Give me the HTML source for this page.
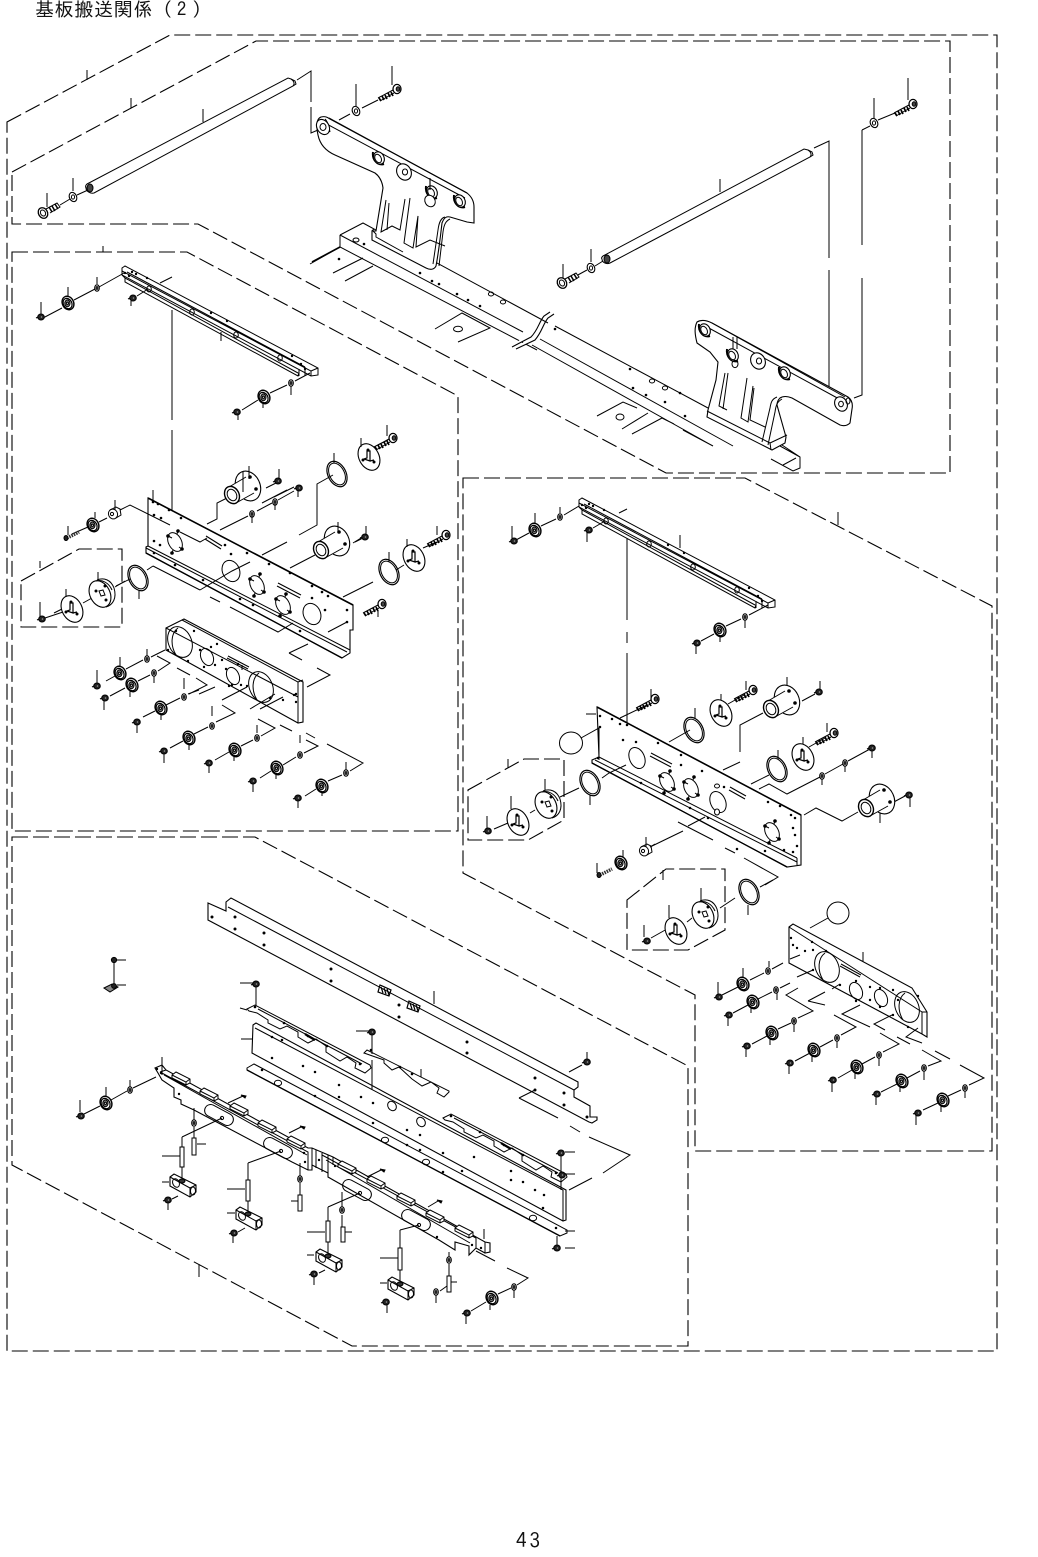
<!DOCTYPE html>
<html><head><meta charset="utf-8"><style>
html,body{margin:0;padding:0;background:#fff}
svg{display:block}
text{fill:#111}
</style></head><body>
<svg xmlns="http://www.w3.org/2000/svg" width="1038" height="1557" viewBox="0 0 1038 1557" fill="none" stroke="#000" stroke-width="1">
<defs>
<g id="n"><ellipse rx="5.6" ry="7" transform="rotate(-28)" fill="#fff" stroke-width="1.4"/><ellipse cx="-.6" cy=".3" rx="4.2" ry="5.4" transform="rotate(-28)" stroke-width="1.2"/><ellipse cx="-.6" cy=".3" rx="2.6" ry="3.4" fill="#777" stroke-width="1"/><circle cx="-.6" cy=".3" r="1.1" fill="#fff"/></g>
<g id="s"><ellipse rx="3.3" ry="3" fill="#222"/><path d="M-3 0L-5 1" /><circle cx=".5" r=".8" fill="#999" stroke="none"/></g>
<g id="w"><ellipse rx="2.3" ry="3.2" fill="#fff" stroke-width="1.1"/><ellipse rx="1.4" ry="2" fill="#222" stroke="none"/></g>
<g id="W"><ellipse rx="3.6" ry="4.8" transform="rotate(-25)" fill="#fff" stroke-width="1.1"/><ellipse rx="1.6" ry="2.1" fill="#fff"/></g>
<g id="B"><path d="M-4 1L-19 9M-3 4L-17 12" stroke-width="1"/><path d="M-6 3l2 4M-9 4l2 4M-12 6l2 4M-15 7l2 4M-18 9l2 3" stroke-width="1.7"/><ellipse rx="4" ry="4.6" fill="#fff" stroke-width="1.3"/><ellipse cx="1" rx="1.8" ry="2.3" fill="#444"/></g>
<g id="r"><ellipse rx="9" ry="13.5" transform="rotate(-27)" fill="none" stroke-width="1.2"/><ellipse rx="7.4" ry="11.6" transform="rotate(-27)" stroke-width="1"/></g>
<g id="D"><ellipse rx="10" ry="14" transform="rotate(-27)" fill="#fff" stroke-width="1.1"/><path d="M-2 1V-6H1V4L-5 2ZM1 4l4-1" stroke-width="1.2"/><circle cx="-1" cy="-7" r="1" fill="#000"/><circle cx="5" cy="5" r="1" fill="#000"/><circle cx="-6" cy="3" r="1" fill="#000"/></g>
<g id="U"><ellipse cx="16" cy="-9" rx="12" ry="15.5" transform="rotate(-25 16 -9)" fill="#fff" stroke-width="1.1"/><path d="M-3 -8L14 -18L24 -2L4 8Z" fill="#fff" stroke="none"/><path d="M-3 -8L14 -18M4 8L22 -2"/><ellipse rx="7" ry="9" transform="rotate(-28)" fill="#fff" stroke-width="1.4"/><ellipse rx="4.5" ry="6" transform="rotate(-28)" fill="#fff"/><circle cx="18" cy="-18" r="1.3" fill="#000"/><circle cx="24" cy="-6" r="1.3" fill="#000"/></g>
<g id="R"><path d="M-5 -14C2 -17 9 -14 12 -6C15 4 11 11 4 13" fill="#fff"/><ellipse cx="-2" rx="10" ry="14" transform="rotate(-27 -2 0)" fill="#fff" stroke-width="1.1"/><path d="M-6 -13C0 -15 7 -11 10 -4" /><path d="M-3 -3L1 -4L3 1L-1 2Z" /><circle cx="-6" cy="-3" r="1" fill="#000"/><circle cx="4" cy="6" r="1" fill="#000"/><circle cx="3" cy="-8" r="1" fill="#000"/></g>
<g id="K"><path d="M-12 -8L-8 -11L14 0V7L8 12L-12 1Z" fill="#fff" stroke-width="1.1"/><path d="M-12 -8L8 3L14 0M8 3V12"/><ellipse cx="-6" cy="-2" rx="3.2" ry="4.5" transform="rotate(-25 -6 -2)"/><ellipse cx="11" cy="6" rx="2.5" ry="4"/><ellipse cx="0" cy="-4" rx="3" ry="2" fill="#333"/></g>
<g id="C"><ellipse rx="6.5" ry="10" transform="rotate(-27)" fill="#fff" stroke-width="1"/><path d="M-7 -6L-3 -4M3 -11L2 -8M7 7L4 5M-3 11L-2 8" stroke-width="1"/><circle cx="-7" cy="-6" r="1.3" fill="#000"/><circle cx="3" cy="-11" r="1.3" fill="#000"/><circle cx="7" cy="7" r="1.3" fill="#000"/><circle cx="-3" cy="11" r="1.3" fill="#000"/></g>
<g id="T"><path d="M-9 -4L-5 -7L9 0V4L5 6L-9 -1Z" fill="#fff" stroke-width="1"/><path d="M-9 -4L5 3V6M5 3L9 0"/></g>
<g id="O"><rect x="-15.5" y="-6" width="31" height="12" rx="6" transform="rotate(28)" fill="none" stroke-width="1"/></g>
<g id="c"><path d="M-6 -6C-7 1 -2 8 5 6" stroke-width="2"/><ellipse rx="5" ry="6.5" transform="rotate(-28)" fill="#fff" stroke-width="1.1"/><ellipse cx="-1" rx="3" ry="4.5" transform="rotate(-28)"/></g>
<g id="L"><path d="M122 268L125 266L318 368V375L311 376L122 275Z" fill="#fff"/><path d="M122 271L311 371V376M311 371L318 368M122 275L125 278L298 373M127 272L305 367M125 278V282L298 376L299 372M299 369V376M305 367V376"/><ellipse cx="149" cy="289" rx="2.3" ry="3"/><ellipse cx="192" cy="312" rx="2.3" ry="3"/><ellipse cx="236" cy="335" rx="2.3" ry="3"/><ellipse cx="280" cy="358" rx="2.3" ry="3"/><path d="M125 273h0M129 276h0M132 272h0M136 274h0M147 278h0M211 313h0M227 321h0M292 356h0M301 364h0M305 369h0" stroke-linecap="round" stroke-width="2.4"/></g>
<g id="S"><path d="M247 1009L255 1005L370 1065L371 1068L365 1073L355 1068L356 1063L347 1057L340 1061L326 1052V1046L316 1039L308 1043L298 1037V1032L287 1026L280 1029L268 1023V1020L257 1013L249 1011Z" fill="#fff"/><path d="M258 1009L362 1064" /><path d="M255 1007h0M284 1023h0M308 1036h0M327 1046h0M360 1064h0" stroke-linecap="round" stroke-width="2.6"/><path d="M305 1034l10 6" stroke-width="2.2"/></g>
</defs>

<text x="35" y="16" font-family="'IPAGothic','Noto Sans CJK JP',sans-serif" font-size="19" letter-spacing=".7" stroke="none">基板搬送関係（<tspan dx="4">2</tspan><tspan dx="5">）</tspan></text>
<text x="516" y="1548" font-family="'IPAGothic','Liberation Sans',sans-serif" font-size="21" letter-spacing="3" stroke="none">43</text>

<!-- frames -->
<g stroke-dasharray="16 5" stroke-width="1.1">
<path d="M7 122L170 35H997V1351H7Z"/>
<path d="M12 172L256 41H950V473H666L198 224H12Z"/>
<path d="M12 252H187L458 396V831H12Z"/>
<path d="M463 478H745L992 606V1151H695V995L463 873Z"/>
<path d="M12 837H255L688 1066V1346H352L12 1165Z"/>
<path d="M21 581L79 549H122V627H21Z"/>
<path d="M468 790L524 759H564V820L528 840H468Z"/>
<path d="M627 900L666 869H725V930L688 950H627Z"/>
</g>

<!-- frame ticks -->
<path d="M87 70V80M131 98V108M103 246V252M838 512V525M199 1264V1277"/>

<!-- ===== TOP SECTION ===== -->
<!-- rods -->
<path d="M87 184L288 78L291 79C294 81 295 84 293 86L94 193C90 194 86 191 86 188C85 186 86 185 87 184Z" fill="#fff"/>
<path d="M291 79L295 81L296 84L293 86"/>
<ellipse cx="90" cy="188" rx="3" ry="4" fill="#444"/>
<path d="M603 256L804 149L808 150C811 152 812 155 810 157L610 263C606 265 602 262 602 259C601 258 602 257 603 256Z" fill="#fff"/>
<path d="M808 150L812 152L813 155L810 157"/>
<ellipse cx="607" cy="259" rx="3" ry="4" fill="#444"/>
<path d="M203 109V122M720 179V192M47 193V207M73 178V191M563 264V278M591 249V262M392 66V85M356 84V106M908 78V100M874 98V119"/>
<path d="M60 205L70 199M77 195L88 190M576 276L587 270M595 266L603 261"/>
<path d="M297 80L311 71V102M311 107V133L318 130"/>
<path d="M814 148L829 141V258M829 270V291M829 291V409L838 404"/>
<path d="M862 130L870 126M878 120L895 113M862 130V245M862 278V395L854 398"/>
<path d="M339 120L350 114M362 108L378 100"/>
<g transform="translate(43 213)"><path d="M3 -4L14 -10L17 -6L7 0" fill="#fff"/><path d="M6 -6l3 5M9 -7l3 5M12 -9l3 5" stroke-width="1.5"/><ellipse rx="4.5" ry="5.5" transform="rotate(-30)" fill="#fff" stroke-width="1.3"/><ellipse rx="2.4" ry="3.2" transform="rotate(-30)"/></g>
<g transform="translate(562 283)"><path d="M3 -4L14 -10L17 -6L7 0" fill="#fff"/><path d="M6 -6l3 5M9 -7l3 5M12 -9l3 5" stroke-width="1.5"/><ellipse rx="4.5" ry="5.5" transform="rotate(-30)" fill="#fff" stroke-width="1.3"/><ellipse rx="2.4" ry="3.2" transform="rotate(-30)"/></g>
<use href="#W" x="73" y="197"/><use href="#W" x="591" y="268"/><use href="#W" x="356" y="111"/><use href="#W" x="874" y="123"/>
<use href="#B" x="397" y="89"/><use href="#B" x="913" y="104"/>

<!-- beam -->
<path d="M340 235L363 223L548 323M340 235V247L537 350M340 235L523 332M310 264L340 247M333 273L363 258M345 281L373 266M435 329L462 313L490 328L458 342" />
<path d="M312 262L340 247" stroke-width="1.6"/>
<path d="M550 312L544 316C539 322 538 330 531 337L512 347M554 314L548 318C543 324 542 332 535 340L516 349" fill="#fff" stroke-width="1.1"/>
<path d="M555 326L708 408M540 339L733 446M532 345L713 446M597 416L623 402L637 408M622 429L648 413M632 434L662 418L674 424M683 430L713 446M713 446"/>
<path d="M782 445L800 457V468L793 471L771 459M783 465L796 458M780 446L800 457"/>
<ellipse cx="458" cy="329" rx="4.5" ry="2.8"/><ellipse cx="356" cy="240" rx="3" ry="2"/><ellipse cx="491" cy="294" rx="2.6" ry="2"/><ellipse cx="503" cy="302" rx="2.6" ry="2"/><ellipse cx="652" cy="381" rx="2.6" ry="2"/><ellipse cx="665" cy="388" rx="2.6" ry="2"/><ellipse cx="620" cy="417" rx="4" ry="3"/>
<path d="M339 259h0M364 244h0M420 273h0M432 281h0M439 284h0M457 294h0M468 300h0M480 306h0M555 329h0M630 369h0M633 388h0M646 395h0M665 402h0M680 393h0M685 416h0" stroke-linecap="round" stroke-width="2.6"/>

<!-- bracket 1 -->
<path d="M321 117C325 116 327 117 330 119L467 193C472 197 474 202 474 207V223L467 222L450 217C446 216 444 218 442 223C440 240 439 250 436 266C434 270 430 270 426 268L372 240V231L376 231L383 188C382 180 379 176 375 173L335 155C326 151 320 145 318 135C316 126 316 119 321 117Z" fill="#fff" stroke-width="1.1"/>
<path d="M323 122L465 198M329 118L467 193M330 132C329 127 328 122 325 119"/>
<path d="M386 200L381 232L392 226L400 230L405 199M389 203L387 230M410 198L404 243L413 248L418 216L416 247L430 240L445 246M445 217C441 218 439 222 438 230L433 264M450 219C446 221 444 224 443 232L439 266M372 230L376 234L376 237L403 252M372 231L374 229"/>
<use href="#c" x="379" y="158"/><use href="#c" x="432" y="192"/><use href="#c" x="460" y="201"/>
<ellipse cx="323" cy="127" rx="6" ry="8" transform="rotate(-30 323 127)" fill="#fff" stroke-width="1.1"/><ellipse cx="323" cy="127" rx="3" ry="3.5"/>
<ellipse cx="404" cy="172" rx="7" ry="8.5" transform="rotate(-30 404 172)" fill="#fff" stroke-width="1.1"/><ellipse cx="405" cy="172" rx="2.6" ry="3"/>
<ellipse cx="430" cy="201" rx="5" ry="6" transform="rotate(-30 430 201)" fill="#fff"/>
<path d="M430 178V190" stroke-width="1.1"/>

<!-- bracket 2 -->
<path d="M697 322C702 319 708 321 712 323L848 397C852 400 853 404 852 409L850 423C847 426 843 426 840 425L792 398C787 396 783 396 780 398C778 400 777 402 777 405L786 437L785 443L772 450L707 417L708 410L716 380L718 362L710 352L697 343C695 335 694 328 697 322Z" fill="#fff" stroke-width="1.1"/>
<path d="M712 323L845 397M707 327L841 400" />
<path d="M725 373L719 406L727 410M728 373L723 409M747 378L741 418L748 422L753 386M754 388L750 420L765 427M777 397C772 399 771 402 770 408L762 442M782 399C777 402 776 405 775 412L768 445M707 411L770 443L771 450M770 443L787 435"/>
<use href="#c" x="705" y="330"/><use href="#c" x="733" y="355"/><use href="#c" x="785" y="373"/>
<ellipse cx="758" cy="361" rx="7" ry="8.5" transform="rotate(-30 758 361)" fill="#fff" stroke-width="1.1"/><ellipse cx="759" cy="361" rx="2.6" ry="3"/>
<ellipse cx="735" cy="364" rx="3" ry="3.6"/>
<path d="M733 337V349M737 337V349"/>
<ellipse cx="841" cy="404" rx="6" ry="7.5" transform="rotate(-30 841 404)" fill="#fff" stroke-width="1.1"/><ellipse cx="841" cy="404" rx="2.4" ry="2.8"/>
<ellipse cx="848" cy="401" rx="2" ry="3"/>

<!-- ===== LEFT SECTION ===== -->
<use href="#L"/>
<path d="M221 332V341M41 302V315M68 287V298M97 277V284M131 301V306M291 385V395M263 402V408M238 414V420"/>
<path d="M43 318L62 308M74 300L95 289M99 287L124 273M137 296L148 289M172 277L160 283M172 310V420M172 430V522L182 517M242 410L258 400M270 393L287 385M295 381L310 373"/>
<use href="#s" x="41" y="317"/><use href="#n" x="68" y="303"/><use href="#w" x="97" y="288"/><use href="#s" x="133" y="298"/><use href="#w" x="291" y="383"/><use href="#n" x="264" y="397"/><use href="#s" x="237" y="412"/>

<!-- plate 1 -->
<path d="M148 498L353 605V630H350V653L342 658L146 553V547L148 546Z" fill="#fff" stroke-width="1.1"/>
<path d="M148 498L353 605" stroke-width="1.6"/><path d="M148 546L350 650M146 548L347 652M146 553L342 658" />
<path d="M146 553L342 658" stroke-width="1.3"/>
<ellipse cx="231" cy="571" rx="8.5" ry="11" transform="rotate(-24 231 571)" fill="#fff"/><ellipse cx="312" cy="614" rx="8.5" ry="11" transform="rotate(-24 312 614)" fill="#fff"/>
<use href="#C" x="175" y="542"/><use href="#C" x="257" y="585"/><use href="#C" x="283" y="605"/>
<path d="M205 539L221 549M206 536L222 546M277 586L300 598M278 583L301 595" stroke-width="1.1"/>
<path d="M153 502h0M158 504h0M169 510h0M154 515h0M161 518h0M181 518h0M154 541h0M160 545h0M225 545h0M231 554h0M247 553h0M269 564h0M290 573h0M312 586h0M322 592h0M328 596h0M347 610h0M347 622h0M203 580h0M240 599h0M253 605h0M300 631h0M325 610h0M312 598h0M175 565h0M154 553h0" stroke-linecap="round" stroke-width="2.6"/>

<!-- left leaders -->
<path d="M207 524L217 519V503L227 498M220 530L248 516M257 511L272 503M278 500L294 491M333 475L317 484V525L299 535M287 542L262 555M250 562L232 571L200 590M290 568L315 555M343 597L373 582M396 570L404 565M423 548L437 542M287 484"/>
<path d="M120 510L130 505L170 525M180 532L200 542L207 538M153 566L147 570M153 566L200 590M116 586L130 579M210 597L220 602M230 607L278 632L293 623M328 632L347 622M289 653L308 644M289 653L302 660M317 668L330 675L307 687"/>
<path d="M243 492M72 534L88 527M99 522L107 518"/>
<path d="M381 537M353 543L361 538M311 555"/>
<path d="M294 487L274 497M287 490L262 503"/>
<path d="M72 609L42 619M54 613L62 609M83 603L92 598M115 587L125 581M278 482L266 488M365 537L355 542M388 440L378 445"/>
<use href="#U" x="232" y="495"/><use href="#U" x="321" y="550"/>
<use href="#s" x="278" y="481"/><use href="#s" x="365" y="537"/>
<use href="#r" x="337" y="474"/><use href="#r" x="389" y="572"/><use href="#r" x="138" y="578"/>
<use href="#D" x="369" y="457"/><use href="#D" x="414" y="558"/><use href="#D" x="72" y="609"/>
<use href="#B" x="393" y="438"/><use href="#B" x="446" y="535"/><use href="#B" x="382" y="604"/>
<g transform="translate(93 525)"><use href="#n"/></g>
<g transform="translate(67 538)"><path d="M0 0L12 -6" stroke-width="3.5" stroke="#333" stroke-dasharray="1.5 1"/><ellipse cx="-1" rx="2" ry="2.5" fill="#222"/></g>
<ellipse cx="113" cy="514" rx="4.5" ry="5" transform="rotate(-25 113 514)" fill="#fff"/><path d="M110 510l6-3 4 2 1 6-5 3"/><circle cx="112" cy="514" r="1.6"/>
<use href="#R" x="102" y="594"/>
<use href="#s" x="42" y="619"/>
<use href="#w" x="252" y="514"/><use href="#w" x="275" y="502"/><use href="#s" x="299" y="488"/>
<path d="M153 490V500M115 500V510M95 512V518M68 526V535M249 466V479M279 469V479M252 516V523M275 504V510M298 490V497M334 453V463M338 522V532M366 526V535M387 425V436M437 526V535M361 438V447M407 539V547M389 552V562M378 610V617M40 561V568M98 572V580M66 589V597M40 602V617M139 590V599"/>

<!-- plate 2 -->
<path d="M166 628L182 620L184 619L303 682V722L298 723L166 650Z" fill="#fff" stroke-width="1.1"/>
<path d="M166 628L298 697M182 620L298 682V723M298 682L303 680"/>
<ellipse cx="180" cy="642" rx="11.5" ry="16" transform="rotate(-24 180 642)"/><path d="M178 628C171 633 170 645 176 655" />
<ellipse cx="261" cy="687" rx="11.5" ry="16" transform="rotate(-24 261 687)"/><path d="M259 673C252 678 251 690 257 700"/>
<ellipse cx="207" cy="657" rx="6" ry="9" transform="rotate(-24 207 657)"/><ellipse cx="233" cy="676" rx="6" ry="9" transform="rotate(-24 233 676)"/>
<path d="M200 650h0M211 647h0M215 665h0M204 667h0M226 669h0M238 664h0M241 685h0M229 686h0" stroke-linecap="round" stroke-width="2.4"/>
<path d="M227 658L248 669M228 656L249 667M242 665V670"/>
<path d="M176 631h0M194 631h0M217 644h0M168 650h0M188 661h0M222 660h0M232 685h0M247 686h0M270 698h0M283 700h0M294 695h0M296 702h0M296 694h0" stroke-linecap="round" stroke-width="2.4"/>
<path d="M243 471V492M120 657V667M147 649V657M97 670V683M104 700V710M130 688V697M154 675V683M184 678V689M161 714V720M137 725V733M212 706V716M189 743V750M164 753V763M257 725V733M234 755V761M209 765V773M300 735V743M276 773V779M253 784V792M346 762V770M322 791V796M298 800V808"/>
<path d="M106 681L115 676M126 669L143 660M151 657L165 650M110 696L125 688M138 681L150 675M158 671L170 663L157 656M177 668L190 675M196 678L207 685L189 694M143 717L155 711M166 705L180 698M188 694L199 690M170 748L183 741M194 734L208 727M216 722L235 713L222 705M215 760L229 752M241 746L253 740M261 736L275 728L258 719M222 700L247 687M199 694L215 687M260 778L271 771M283 765L296 757M304 753L318 746L306 740M292 731L280 725M250 709L275 694M305 796L316 789M328 781L342 775M350 771L363 763L327 744M315 738L306 733M260 709L283 697"/>
<use href="#s" x="97" y="686"/><use href="#n" x="120" y="673"/><use href="#w" x="147" y="659"/>
<use href="#s" x="105" y="698"/><use href="#n" x="132" y="685"/><use href="#w" x="154" y="673"/>
<use href="#s" x="137" y="722"/><use href="#n" x="161" y="708"/><use href="#w" x="184" y="697"/>
<use href="#s" x="164" y="751"/><use href="#n" x="189" y="738"/><use href="#w" x="212" y="726"/>
<use href="#s" x="209" y="763"/><use href="#n" x="235" y="750"/><use href="#w" x="257" y="738"/>
<use href="#s" x="253" y="781"/><use href="#n" x="277" y="768"/><use href="#w" x="300" y="755"/>
<use href="#s" x="298" y="798"/><use href="#n" x="322" y="786"/><use href="#w" x="346" y="773"/>

<!-- ===== RIGHT SECTION ===== -->
<use href="#L" transform="translate(457 232)"/>
<path d="M680 535V548M512 526V538M535 513V523M560 507V513M587 532V542M745 618V628M720 635V642M696 645V654"/>
<path d="M627 509L619 513M627 538V620M627 632V643M627 653V737L638 728M516 540L529 533M541 526L556 519M564 515L579 506M593 528L605 521M701 641L714 634M726 626L741 619M749 615L768 605"/>
<use href="#s" x="514" y="541"/><use href="#n" x="535" y="530"/><use href="#w" x="560" y="517"/><use href="#s" x="589" y="530"/><use href="#w" x="745" y="617"/><use href="#n" x="720" y="630"/><use href="#s" x="697" y="643"/>

<!-- plate R -->
<path d="M597 707L801 815V865L787 867L592 763V760L599 757Z" fill="#fff" stroke-width="1.1"/>
<path d="M597 707L801 815" stroke-width="1.6"/>
<path d="M599 757V760M599 757L797 858M592 763L787 867M595 760L797 862M797 858V865" />
<path d="M592 763L787 867" stroke-width="1.3"/>
<ellipse cx="637" cy="758" rx="7.5" ry="11" transform="rotate(-24 637 758)" fill="#fff"/><ellipse cx="718" cy="802" rx="7.5" ry="11" transform="rotate(-24 718 802)" fill="#fff"/>
<use href="#C" x="667" y="782"/><use href="#C" x="691" y="788"/><use href="#C" x="772" y="832"/>
<path d="M650 756L671 767M651 753L672 764M729 790L745 799M730 787L746 796" stroke-width="1.1"/>
<path d="M600 716h0M600 727h0M612 719h0M620 724h0M627 725h0M623 740h0M636 742h0M658 743h0M681 755h0M681 765h0M702 771h0M724 787h0M768 802h0M780 806h0M791 815h0M795 818h0M795 835h0M793 852h0M793 828h0M641 783h0M690 808h0M737 849h0M765 851h0M784 850h0M797 846h0M598 758h0M708 818h0" stroke-linecap="round" stroke-width="2.5"/>
<ellipse cx="717" cy="812" rx="2.5" ry="3" fill="#fff"/><ellipse cx="717" cy="786" rx="2.5" ry="2"/>
<ellipse cx="571" cy="743" rx="11.5" ry="11" fill="#fff"/>
<path d="M581 738L599 728V760M586 714H596M651 689V700M695 708V718M721 694V702M746 681V690M787 677V686M820 681V690M778 750V759M803 737V745M827 723V732M822 778V785M845 763V772M872 750V758M880 813V823M910 798V807M511 796V809M545 779V792M487 816V828M590 795V805M508 759V768M646 837V847M623 850V858M597 863V873M669 905V918M644 925V937M701 888V901M748 905V915M663 870V880"/>
<path d="M647 705L620 718M669 742L690 730M728 704L744 695M802 701L815 694M763 713L740 725V752M740 762L723 770M751 784L769 775M809 747L825 738M759 789L769 784L787 794L820 777M825 774L843 764M848 761L870 749M804 815L816 808L842 821L858 812M892 803L905 796"/>
<path d="M494 829L508 823M530 813L535 810M560 797L579 788M602 778L609 773L626 765M650 847L683 831M678 822L713 840M725 848L735 853M744 858L778 877L765 885M688 826L705 817"/>
<path d="M651 938L667 929M687 922L692 918M720 908L735 898M760 887L773 880"/>
<use href="#B" x="655" y="699"/><use href="#B" x="753" y="690"/><use href="#B" x="834" y="733"/>
<use href="#r" x="694" y="730"/><use href="#r" x="777" y="769"/><use href="#r" x="590" y="783"/><use href="#r" x="749" y="892"/>
<use href="#D" x="721" y="713"/><use href="#D" x="803" y="757"/><use href="#D" x="518" y="822"/><use href="#D" x="676" y="931"/>
<g transform="translate(771 709)"><use href="#U"/></g>
<g transform="translate(866 808)"><use href="#U"/></g>
<use href="#s" x="819" y="692"/><use href="#s" x="909" y="795"/><use href="#s" x="488" y="831"/><use href="#s" x="647" y="941"/>
<use href="#w" x="822" y="776"/><use href="#w" x="845" y="763"/><use href="#s" x="872" y="748"/>
<use href="#R" x="548" y="805"/><use href="#R" x="705" y="915"/>
<path d="M650 847L655 844" />
<ellipse cx="644" cy="851" rx="4.5" ry="5" transform="rotate(-25 644 851)" fill="#fff"/><path d="M641 847l6-3 4 2 1 6-5 3"/><circle cx="643" cy="851" r="1.6"/>
<use href="#n" x="621" y="863"/>
<path d="M600 875L612 869" stroke-width="3.5" stroke="#333" stroke-dasharray="1.5 1"/><ellipse cx="599" cy="875" rx="2" ry="2.5" fill="#222"/>

<!-- plate 3 -->
<circle cx="838" cy="913" r="11"/>
<path d="M810 928L828 918"/>
<path d="M789 927L793 924L912 988L927 1012V1037L922 1034L789 963Z" fill="#fff" stroke-width="1.1"/>
<path d="M789 927L922 1012V1034M922 1012L927 1012"/>
<ellipse cx="827" cy="967" rx="11.5" ry="16" transform="rotate(-24 827 967)"/><path d="M825 953C818 958 817 970 823 980"/>
<ellipse cx="907" cy="1007" rx="11.5" ry="16" transform="rotate(-24 907 1007)"/><path d="M905 993C898 998 897 1010 903 1020"/>
<ellipse cx="856" cy="991" rx="6" ry="9" transform="rotate(-24 856 991)"/><ellipse cx="881" cy="998" rx="6" ry="9" transform="rotate(-24 881 998)"/>
<path d="M840 966L860 977M841 964L861 975"/>
<path d="M791 938h0M793 945h0M797 948h0M805 951h0M813 950h0M813 970h0M826 951h0M840 985h0M856 981h0M856 1001h0M870 987h0M870 1000h0M880 988h0M893 990h0M893 1015h0M880 1007h0M898 1000h0M908 1027h0M918 996h0M812 942h0" stroke-linecap="round" stroke-width="2.4"/>
<path d="M863 952V962M718 982V995M743 968V978M769 961V967M728 1017V1026M751 1006V1013M777 992V1000M746 1048V1057M770 1038V1045M794 1023V1032M789 1065V1074M812 1055V1062M837 1040V1048M832 1082V1092M855 1073V1079M879 1057V1066M876 1096V1105M900 1085V1092M924 1070V1080M916 1115V1125M941 1105V1112M965 1090V1098"/>
<path d="M722 995L738 987M750 980L764 973M772 969L783 963M790 959L800 955M733 1013L748 1005M758 999L772 992M780 988L790 983M797 977L813 970M752 1044L767 1036M778 1029L791 1023M798 1018L813 1011L786 995L798 988M795 1061L810 1053M820 1047L833 1040M841 1035L856 1027L834 1015M825 1005L808 1001M808 1001L825 992M832 989L840 984M838 1078L852 1070M862 1064L875 1057M883 1052L899 1044L880 1033M870 1027L842 1014L860 1005M881 1092L897 1084M907 1078L920 1071M928 1066L941 1061L922 1050M910 1044L897 1037M885 1030L874 1024L892 1015M923 1110L938 1103M948 1096L961 1090M969 1085L984 1078L960 1065M950 1059L935 1051M922 1043L906 1037L918 1028"/>
<use href="#s" x="719" y="997"/><use href="#n" x="743" y="984"/><use href="#w" x="768" y="971"/>
<use href="#s" x="729" y="1015"/><use href="#n" x="753" y="1002"/><use href="#w" x="776" y="990"/>
<use href="#s" x="747" y="1046"/><use href="#n" x="772" y="1033"/><use href="#w" x="794" y="1021"/>
<use href="#s" x="790" y="1063"/><use href="#n" x="814" y="1050"/><use href="#w" x="837" y="1038"/>
<use href="#s" x="833" y="1080"/><use href="#n" x="857" y="1067"/><use href="#w" x="879" y="1055"/>
<use href="#s" x="877" y="1094"/><use href="#n" x="902" y="1081"/><use href="#w" x="924" y="1068"/>
<use href="#s" x="918" y="1113"/><use href="#n" x="943" y="1100"/><use href="#w" x="965" y="1088"/>

<!-- ===== BOTTOM SECTION ===== -->
<path d="M208 903L226 911V902L231 898L578 1082V1087L574 1090V1097L590 1106V1117H597V1120L592 1123L589 1122L208 920Z" fill="#fff" stroke-width="1.1"/>
<path d="M228 907L574 1090"/>
<path d="M212 917h0M235 917h0M235 929h0M264 933h0M264 945h0M331 969h0M331 981h0M399 1005h0M399 1017h0M467 1042h0M467 1053h0M535 1078h0M535 1090h0M564 1093h0M564 1105h0M587 1117h0" stroke-linecap="round" stroke-width="3"/>
<g stroke-width="1.2"><path d="M380 985L391 990L389 996L378 992ZM381 987l2 6M384 988l2 6M387 989l2 6M409 1001L420 1006L418 1012L407 1008ZM410 1003l2 6M413 1004l2 6M416 1005l2 6"/></g>
<path d="M434 991V1004M587 1052V1060M569 1072L582 1065"/>
<use href="#s" x="587" y="1062"/>
<path d="M519 1098L535 1090M519 1098L558 1118M570 1126L580 1132M589 1137L630 1155L603 1173M592 1178L569 1190"/>

<!-- clip far left -->
<path d="M114 962V984M117 960H126M117 985H126"/>
<circle cx="114" cy="960" r="2.6" fill="#222"/><path d="M104 988L112 984L118 987L110 992Z" fill="#888"/><circle cx="114" cy="986" r="2.4" fill="#222"/>

<!-- plates centre -->
<path d="M253 1025L256 1023L566 1190V1220L563 1221L252 1053Z" fill="#fff" stroke-width="1.1"/>
<path d="M255 1028L563 1190V1221"/>
<path d="M247 1068L254 1064L567 1230V1233L560 1236L247 1070Z" fill="#fff" stroke-width="1"/>
<path d="M247 1070L560 1236" stroke-width="1.3"/>
<ellipse cx="278" cy="1083" rx="3.6" ry="2.8"/><ellipse cx="385" cy="1140" rx="3.6" ry="2.8"/><ellipse cx="426" cy="1162" rx="3.6" ry="2.8"/><ellipse cx="533" cy="1218" rx="3.6" ry="2.8"/>
<path d="M262 1070h0M272 1037h0M272 1058h0M282 1040h0M303 1066h0M315 1072h0M315 1096h0M339 1085h0M339 1097h0M361 1097h0M373 1103h0M373 1123h0M407 1130h0M407 1145h0M420 1135h0M420 1150h0M443 1153h0M443 1172h0M462 1171h0M474 1157h0M511 1171h0M511 1180h0M523 1182h0M535 1190h0M544 1195h0M543 1208h0M556 1228h0" stroke-linecap="round" stroke-width="2.5"/>
<ellipse cx="392" cy="1106" rx="4" ry="5" transform="rotate(-35 392 1106)"/><ellipse cx="421" cy="1122" rx="4" ry="5" transform="rotate(-35 421 1122)"/>
<use href="#S"/><use href="#S" transform="translate(196 109)"/>
<path d="M364 1053L367 1050L449 1091L449 1092L444 1097L437 1093L439 1088L431 1082L422 1086L412 1079L399 1067L392 1070L384 1063V1060L364 1053Z" fill="#fff"/>
<path d="M371 1050h0M400 1067h0M412 1074h0" stroke-linecap="round" stroke-width="2.6"/>
<path d="M421 1069V1077M240 983H254M256 987V1006M356 1031H370M372 1034V1054M372 1060V1090M565 1152H575M566 1174H575M561 1156V1172M561 1178V1190M241 1039H252M240 1008L247 1010M565 1231H575M565 1248H575M557 1236V1245"/>
<use href="#s" x="256" y="984"/><use href="#s" x="372" y="1032"/><use href="#s" x="561" y="1153"/><use href="#s" x="562" y="1175"/><use href="#s" x="557" y="1248"/>

<!-- slotted bar -->
<path d="M155 1068L162 1065L166 1070L308 1148L312 1148L333 1157L485 1242L490 1243V1252L485 1253L476 1248L469 1255V1246L455 1242V1250L439 1240L328 1177V1173L312 1165V1170L308 1170L292 1162L194 1110L181 1104V1100L174 1097V1088L162 1080L158 1073Z" fill="#fff" stroke-width="1.1"/>
<path d="M160 1072L308 1152V1170M164 1075L307 1155M322 1155L476 1238M326 1160L470 1243M312 1148V1168M316 1150V1168M322 1153V1172M328 1155V1176M333 1157V1165M476 1238V1248M485 1242V1253M162 1065V1075M166 1070L160 1072"/>
<use href="#T" x="181" y="1079"/><use href="#T" x="209" y="1095"/><use href="#T" x="239" y="1110"/><use href="#T" x="267" y="1127"/><use href="#T" x="296" y="1143"/><use href="#T" x="347" y="1168"/><use href="#T" x="376" y="1183"/><use href="#T" x="406" y="1200"/><use href="#T" x="435" y="1217"/><use href="#T" x="464" y="1232"/>
<use href="#O" x="219" y="1115"/><use href="#O" x="278" y="1148"/><use href="#O" x="357" y="1190"/><use href="#O" x="416" y="1220"/>
<path d="M228 1103L243 1096M289 1133L301 1127M367 1177L381 1170M428 1207L438 1201"/>
<path d="M241 1095l5 1-1 2ZM300 1126l5 1-1 2ZM380 1169l5 1-1 2ZM437 1200l5 1-1 2Z" fill="#000"/>
<path d="M157 1069h0M161 1073h0M179 1094h0M304 1153h0M305 1162h0M319 1160h0M335 1166h0M437 1237h0M472 1245h0M481 1248h0" stroke-linecap="round" stroke-width="2.4"/>
<circle cx="222" cy="1118" r="1.6"/><circle cx="281" cy="1151" r="1.6"/><circle cx="360" cy="1193" r="1.6"/><circle cx="419" cy="1225" r="1.6"/>
<path d="M162 1057V1068M106 1087V1097M80 1100V1112M130 1080V1087M84 1114L100 1106M111 1100L127 1091M133 1088L156 1077"/>
<use href="#s" x="81" y="1116"/><use href="#n" x="106" y="1103"/><use href="#w" x="130" y="1090"/>

<!-- pins / blocks -->
<path d="M182 1137L222 1118M182 1137V1147M182 1167V1178M162 1156H180M162 1182H169M168 1202V1210M194 1108V1120M194 1127V1138M197 1144H206M172 1199L178 1196"/>
<path d="M248 1163L281 1151M248 1163V1180M248 1201V1212M227 1189H245M227 1213H235M233 1235V1243M300 1163V1176M300 1183V1195M291 1201H299M238 1232L245 1228"/>
<path d="M328 1207L360 1193M328 1207V1221M328 1242V1254M307 1232H325M307 1255H314M314 1277V1285M342 1192V1207M342 1215V1227M344 1232H352M319 1273L325 1270"/>
<path d="M400 1230L419 1225M400 1230V1248M400 1270V1282M380 1258H398M380 1283H387M387 1304V1313M449 1252V1257M449 1264V1276M451 1282H457M436 1295V1303M440 1291L447 1286"/>
<path d="M490 1305V1310M514 1289V1298M466 1315V1324M484 1229V1239M471 1311L486 1302M498 1294L511 1288M517 1285L528 1278L507 1268M495 1261L476 1251"/>
<g fill="#fff"><rect x="180" y="1147" width="4" height="20"/><rect x="192" y="1138" width="4" height="17"/><rect x="246" y="1180" width="4" height="21"/><rect x="298" y="1195" width="4" height="16"/><rect x="326" y="1221" width="4" height="21"/><rect x="341" y="1227" width="4" height="15"/><rect x="398" y="1248" width="4" height="22"/><rect x="447" y="1276" width="4" height="16"/></g>
<use href="#K" x="182" y="1185"/><use href="#K" x="248" y="1218"/><use href="#K" x="328" y="1260"/><use href="#K" x="400" y="1288"/>
<use href="#s" x="168" y="1200"/><use href="#s" x="234" y="1233"/><use href="#s" x="314" y="1274"/><use href="#s" x="386" y="1302"/>
<use href="#w" x="194" y="1123"/><use href="#w" x="300" y="1179"/><use href="#w" x="342" y="1210"/><use href="#w" x="449" y="1260"/><use href="#w" x="436" y="1292"/>
<use href="#n" x="492" y="1298"/><use href="#w" x="514" y="1287"/><use href="#s" x="467" y="1313"/>
</svg>
</body></html>
